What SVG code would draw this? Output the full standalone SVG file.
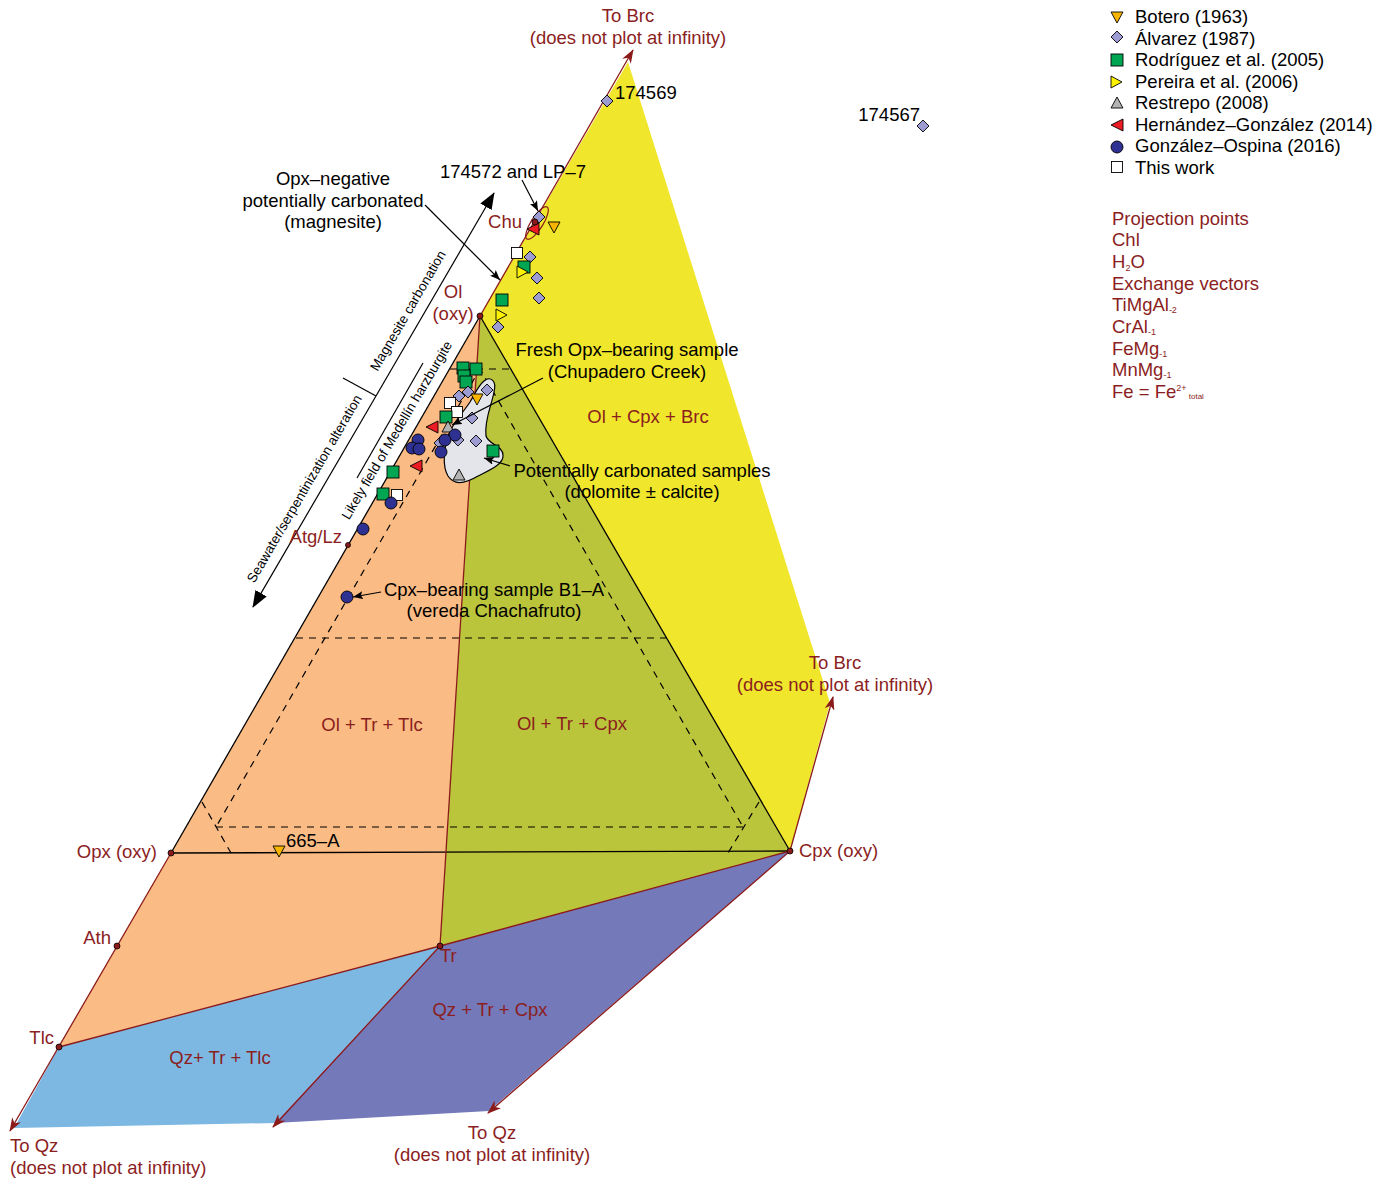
<svg xmlns="http://www.w3.org/2000/svg" width="1385" height="1179" viewBox="0 0 1385 1179">
<defs>
<style>
text{font-family:"Liberation Sans",Arial,sans-serif;font-size:18.5px;fill:#000}
.r{fill:#8B1E1E}
.rl{stroke:#8B1A1A;stroke-width:1.3;fill:none}
.bl{stroke:#000;stroke-width:1.3;fill:none}
.ds{stroke:#000;stroke-width:1.2;stroke-dasharray:7 6;fill:none}
.an{stroke:#000;stroke-width:1.2;fill:none}
.rot{font-size:13.5px}
.pt{fill:#8B1A1A;stroke:#000;stroke-width:0.8}
.m{stroke:#000;stroke-width:0.9}
.sub{font-size:9px}
</style>
<marker id="ar" markerUnits="userSpaceOnUse" markerWidth="14" markerHeight="10" refX="13" refY="5" orient="auto"><path d="M0,0 L14,5 L0,10 L4,5 Z" fill="#8B1A1A"/></marker>
<marker id="ak" markerUnits="userSpaceOnUse" markerWidth="10" markerHeight="8" refX="10" refY="4" orient="auto"><path d="M0,0 L10,4 L0,8 L2,4 Z" fill="#000"/></marker>
<marker id="ab" markerUnits="userSpaceOnUse" markerWidth="17" markerHeight="13" refX="16" refY="6.5" orient="auto"><path d="M0,0 L17,6.5 L0,13 Z" fill="#000"/></marker>
<g id="s-bot"><polygon class="m" points="-6,-5 6,-5 0,6" fill="#F7B500"/></g>
<g id="s-alv"><polygon class="m" points="0,-6 6,0 0,6 -6,0" fill="#9C9CD2"/></g>
<g id="s-rod"><rect class="m" x="-6" y="-6" width="12" height="12" fill="#00A651"/></g>
<g id="s-per"><polygon class="m" points="-5,-6 6,0 -5,6" fill="#FFF200"/></g>
<g id="s-res"><polygon class="m" points="-6,5 6,5 0,-6" fill="#B3B3B3"/></g>
<g id="s-her"><polygon class="m" points="6,-6 -6,0 6,6" fill="#ED1C24"/></g>
<g id="s-gon"><circle class="m" r="6" fill="#2E3192"/></g>
<g id="s-tw"><rect class="m" x="-5.5" y="-5.5" width="11" height="11" fill="#FFFFFF"/></g>
</defs>

<g id="fields">
<polygon id="field-yellow" points="480,316 628,62 830,703 790,851" fill="#F0E62C"/>
<polygon id="field-green" points="480,316 440,946 790,851" fill="#BBC53B"/>
<polygon id="field-orange" points="480,316 171,853 117,946 59,1047 440,946" fill="#FABB84"/>
<polygon id="field-blue" points="59,1047 440,946 275,1123 14,1128" fill="#7DB8E3"/>
<polygon id="field-purple" points="440,946 790,851 489,1111 275,1123" fill="#7479BA"/>
</g>

<g id="connectors">
<line class="bl" x1="480" y1="316" x2="171" y2="853"/>
<line class="bl" x1="480" y1="316" x2="790" y2="851"/>
<line class="bl" x1="171" y1="853" x2="790" y2="851"/>
<line class="ds" x1="450" y1="369" x2="512" y2="369"/>
<line class="ds" x1="296" y1="638" x2="666" y2="638"/>
<line class="ds" x1="216" y1="827" x2="743" y2="827"/>
<line class="ds" x1="481" y1="367" x2="216" y2="827"/>
<line class="ds" x1="479" y1="367" x2="743" y2="827"/>
<line class="ds" x1="202" y1="802" x2="231" y2="853"/>
<line class="ds" x1="759" y1="802" x2="728" y2="853"/>
<line class="rl" x1="480" y1="316" x2="440" y2="946"/>
<line class="rl" x1="440" y1="946" x2="790" y2="851"/>
<line class="rl" x1="59" y1="1047" x2="440" y2="946"/>
<line class="rl" x1="171" y1="853" x2="10" y2="1131" marker-end="url(#ar)"/>
<line class="rl" x1="440" y1="946" x2="273" y2="1127" marker-end="url(#ar)"/>
<line class="rl" x1="790" y1="851" x2="488" y2="1113" marker-end="url(#ar)"/>
<line class="rl" x1="480" y1="316" x2="633" y2="50" marker-end="url(#ar)"/>
<line class="rl" x1="790" y1="851" x2="833" y2="697" marker-end="url(#ar)"/>
<line class="an" x1="376" y1="396" x2="494" y2="193" marker-end="url(#ab)"/>
<line class="an" x1="376" y1="396" x2="253" y2="607" marker-end="url(#ab)"/>
<line class="an" x1="376" y1="396" x2="343" y2="378"/>
<line class="an" x1="357" y1="478" x2="423" y2="363"/>
</g>

<g id="carbonated-field">
<path d="M484,381 C490,376 497,380 494,392 C492,404 484,420 486,436 C488,444 503,446 503,455 C504,464 490,470 478,476 C468,482 455,487 448,476 C442,466 444,448 448,436 C452,424 462,414 470,402 C476,392 478,386 484,381 Z" fill="#E4E5EA" stroke="#000" stroke-width="1.2"/>
</g>
<ellipse id="chu-ellipse" cx="537" cy="223" rx="19" ry="6" transform="rotate(-58 537 223)" fill="none" stroke="#8B1A1A" stroke-width="1.2"/>

<g id="data">
<use href="#s-alv" x="607" y="101"/>
<use href="#s-alv" x="923" y="126"/>
<use href="#s-alv" x="539" y="217"/>
<use href="#s-bot" x="554" y="227"/>
<use href="#s-tw" x="517" y="253"/>
<use href="#s-alv" x="530" y="257"/>
<use href="#s-rod" x="524" y="267"/>
<use href="#s-per" x="522" y="272"/>
<use href="#s-alv" x="537" y="278"/>
<use href="#s-rod" x="502" y="300"/>
<use href="#s-alv" x="539" y="298"/>
<use href="#s-per" x="501" y="315"/>
<use href="#s-alv" x="498" y="327"/>
<use href="#s-rod" x="463" y="368"/>
<use href="#s-rod" x="476" y="369"/>
<use href="#s-rod" x="464" y="376"/>
<use href="#s-rod" x="466" y="382"/>
<use href="#s-alv" x="459" y="396"/>
<use href="#s-alv" x="468" y="392"/>
<use href="#s-alv" x="487" y="390"/>
<use href="#s-bot" x="477" y="399"/>
<use href="#s-tw" x="450" y="403"/>
<use href="#s-tw" x="457" y="412"/>
<use href="#s-rod" x="446" y="417"/>
<use href="#s-alv" x="472" y="418"/>
<use href="#s-res" x="448" y="427"/>
<use href="#s-her" x="432" y="427"/>
<use href="#s-alv" x="458" y="440"/>
<use href="#s-alv" x="440" y="443"/>
<use href="#s-alv" x="476" y="441"/>
<use href="#s-gon" x="455" y="435"/>
<use href="#s-gon" x="445" y="440"/>
<use href="#s-gon" x="441" y="452"/>
<use href="#s-gon" x="418" y="440"/>
<use href="#s-gon" x="412" y="448"/>
<use href="#s-gon" x="419" y="449"/>
<use href="#s-rod" x="493" y="451"/>
<use href="#s-her" x="416" y="466"/>
<use href="#s-res" x="459" y="475"/>
<use href="#s-rod" x="393" y="472"/>
<use href="#s-rod" x="383" y="494"/>
<use href="#s-tw" x="397" y="495"/>
<use href="#s-gon" x="391" y="503"/>
<use href="#s-gon" x="363" y="529"/>
<use href="#s-gon" x="347" y="597"/>
<use href="#s-bot" x="279" y="851"/>
<use href="#s-her" x="533" y="229"/>
</g>

<g id="annotation-arrows">
<line class="an" x1="522" y1="180" x2="538" y2="211" marker-end="url(#ak)"/>
<line class="an" x1="425" y1="205" x2="500" y2="280" marker-end="url(#ak)"/>
<line class="an" x1="543" y1="378" x2="452" y2="425" marker-end="url(#ak)"/>
<line class="an" x1="510" y1="466" x2="484" y2="458" marker-end="url(#ak)"/>
<line class="an" x1="381" y1="592" x2="353" y2="597" marker-end="url(#ak)"/>
</g>

<g id="node-ol"><circle class="pt" cx="480" cy="316" r="3"/><text class="r" x="453" y="298" text-anchor="middle">Ol</text><text class="r" x="453" y="320" text-anchor="middle">(oxy)</text></g>
<g id="node-chu"><circle class="pt" cx="535" cy="222" r="3"/><text class="r" x="505" y="228" text-anchor="middle">Chu</text></g>
<g id="node-atg"><circle class="pt" cx="348" cy="545" r="2.5"/><text class="r" x="342" y="543" text-anchor="end">Atg/Lz</text></g>
<g id="node-opx"><circle class="pt" cx="171" cy="853" r="3"/><text class="r" x="157" y="858" text-anchor="end">Opx (oxy)</text></g>
<g id="node-cpx"><circle class="pt" cx="790" cy="851" r="3"/><text class="r" x="799" y="857">Cpx (oxy)</text></g>
<g id="node-ath"><circle class="pt" cx="117" cy="946" r="3"/><text class="r" x="111" y="944" text-anchor="end">Ath</text></g>
<g id="node-tlc"><circle class="pt" cx="59" cy="1047" r="3"/><text class="r" x="54" y="1044" text-anchor="end">Tlc</text></g>
<g id="node-tr"><circle class="pt" cx="440" cy="946" r="3"/><text class="r" x="440" y="962">Tr</text></g>

<g id="labels">
<text class="r" x="628" y="22" text-anchor="middle">To Brc</text>
<text class="r" x="628" y="44" text-anchor="middle">(does not plot at infinity)</text>
<text class="r" x="835" y="669" text-anchor="middle">To Brc</text>
<text class="r" x="835" y="691" text-anchor="middle">(does not plot at infinity)</text>
<text class="r" x="10" y="1152">To Qz</text>
<text class="r" x="10" y="1174">(does not plot at infinity)</text>
<text class="r" x="492" y="1139" text-anchor="middle">To Qz</text>
<text class="r" x="492" y="1161" text-anchor="middle">(does not plot at infinity)</text>
<text class="r" x="648" y="423" text-anchor="middle">Ol + Cpx + Brc</text>
<text class="r" x="372" y="731" text-anchor="middle">Ol + Tr + Tlc</text>
<text class="r" x="572" y="730" text-anchor="middle">Ol + Tr + Cpx</text>
<text class="r" x="490" y="1016" text-anchor="middle">Qz + Tr + Cpx</text>
<text class="r" x="220" y="1064" text-anchor="middle">Qz+ Tr + Tlc</text>
<text x="615" y="99">174569</text>
<text x="920" y="121" text-anchor="end">174567</text>
<text x="513" y="178" text-anchor="middle">174572 and LP–7</text>
<text x="333" y="185" text-anchor="middle">Opx–negative</text>
<text x="333" y="207" text-anchor="middle">potentially carbonated</text>
<text x="333" y="228" text-anchor="middle">(magnesite)</text>
<text x="627" y="356" text-anchor="middle">Fresh Opx–bearing sample</text>
<text x="627" y="378" text-anchor="middle">(Chupadero Creek)</text>
<text x="642" y="477" text-anchor="middle">Potentially carbonated samples</text>
<text x="642" y="498" text-anchor="middle">(dolomite ± calcite)</text>
<text x="494" y="596" text-anchor="middle">Cpx–bearing sample B1–A</text>
<text x="494" y="617" text-anchor="middle">(vereda Chachafruto)</text>
<text x="286" y="847">665–A</text>
<text class="rot" text-anchor="middle" transform="translate(407.5,310.5) rotate(-59.8)" y="5">Magnesite carbonation</text>
<text class="rot" text-anchor="middle" transform="translate(304,488.5) rotate(-59.8)" y="5">Seawater/serpentinization alteration</text>
<text class="rot" text-anchor="middle" transform="translate(396.5,430) rotate(-59.5)" y="5">Likely field of Medellín harzburgite</text>
</g>

<g id="legend">
<use href="#s-bot" x="1117" y="17"/>
<use href="#s-alv" x="1117" y="37"/>
<use href="#s-rod" x="1117" y="60"/>
<use href="#s-per" x="1116" y="82"/>
<use href="#s-res" x="1117" y="103"/>
<use href="#s-her" x="1117" y="125"/>
<use href="#s-gon" x="1117" y="147"/>
<use href="#s-tw" x="1117" y="167"/>
<text x="1135" y="23">Botero (1963)</text>
<text x="1135" y="44.5">Álvarez (1987)</text>
<text x="1135" y="66">Rodríguez et al. (2005)</text>
<text x="1135" y="87.5">Pereira et al. (2006)</text>
<text x="1135" y="109">Restrepo (2008)</text>
<text x="1135" y="130.5">Hernández–González (2014)</text>
<text x="1135" y="152">González–Ospina (2016)</text>
<text x="1135" y="173.5">This work</text>
<text class="r" x="1112" y="225">Projection points</text>
<text class="r" x="1112" y="246">Chl</text>
<text class="r" x="1112" y="268">H<tspan class="sub" dy="3">2</tspan><tspan dy="-3">O</tspan></text>
<text class="r" x="1112" y="290">Exchange vectors</text>
<text class="r" x="1112" y="311">TiMgAl<tspan class="sub" dy="2">-2</tspan></text>
<text class="r" x="1112" y="333">CrAl<tspan class="sub" dy="2">-1</tspan></text>
<text class="r" x="1112" y="355">FeMg<tspan class="sub" dy="2">-1</tspan></text>
<text class="r" x="1112" y="376">MnMg<tspan class="sub" dy="2">-1</tspan></text>
<text class="r" x="1112" y="398">Fe = Fe<tspan class="sub" dy="-7">2+</tspan><tspan style="font-size:8px" dy="8"> total</tspan></text>
</g>
</svg>
